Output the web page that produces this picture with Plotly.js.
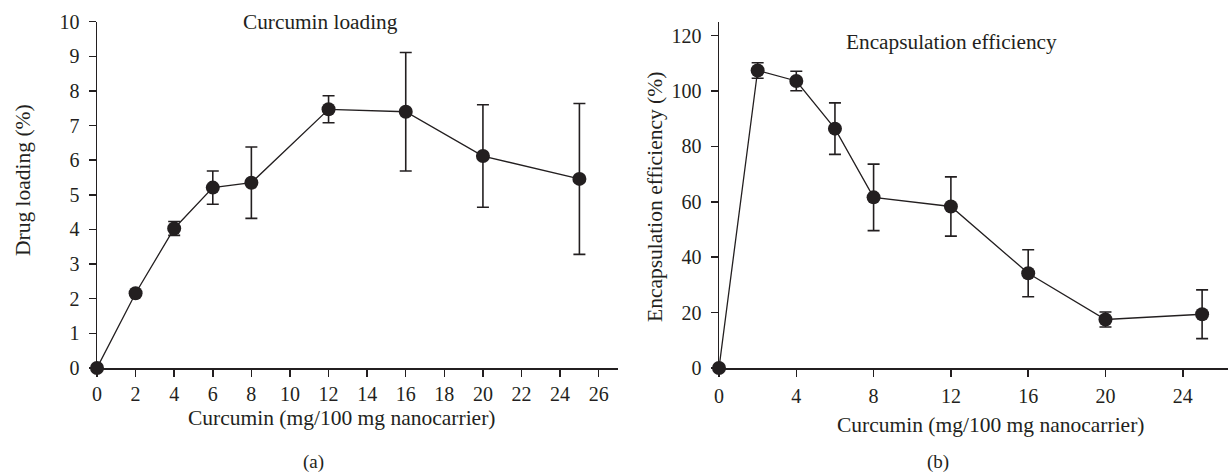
<!DOCTYPE html>
<html>
<head>
<meta charset="utf-8">
<script src="https://cdn.plot.ly/plotly-3.0.1.min.js"></script>
<style>html,body{margin:0;padding:0;background:#fff;}#chart{width:1228px;height:474px;}</style>
</head>
<body>
<div id="chart"></div>
<script>
// Data
const curcumin = [0, 2, 4, 6, 8, 12, 16, 20, 25];
const drugLoading = [0, 2.16, 4.03, 5.21, 5.35, 7.47, 7.40, 6.12, 5.46];
const drugLoadingErr = [0, 0, 0.2, 0.48, 1.03, 0.39, 1.71, 1.48, 2.18];
const encEfficiency = [0, 107.4, 103.6, 86.4, 61.6, 58.3, 34.2, 17.5, 19.4];
const encEfficiencyErr = [0, 2.8, 3.5, 9.3, 12.0, 10.7, 8.5, 2.7, 8.8];
const xTicksA = [0, 2, 4, 6, 8, 10, 12, 14, 16, 18, 20, 22, 24, 26];
const yTicksA = [0, 1, 2, 3, 4, 5, 6, 7, 8, 9, 10];
const xTicksB = [0, 4, 8, 12, 16, 20, 24];
const yTicksB = [0, 20, 40, 60, 80, 100, 120];

const ink = '#231f20';
const FONT = 'Liberation Serif, Times New Roman, serif';

function series(x, y, err, xa, ya) {
  return {
    x: x, y: y, xaxis: xa, yaxis: ya,
    type: 'scatter', mode: 'lines+markers',
    line: {color: ink, width: 1.3},
    marker: {color: ink, size: 14},
    error_y: {type: 'data', array: err, visible: true, color: ink, thickness: 1.6, width: 6},
    cliponaxis: false, showlegend: false, hoverinfo: 'x+y'
  };
}

const data = [
  series(curcumin, drugLoading, drugLoadingErr, 'x', 'y'),
  series(curcumin, encEfficiency, encEfficiencyErr, 'x2', 'y2')
];

const axisBase = {
  showline: true, linecolor: ink, linewidth: 1.5,
  showgrid: false, zeroline: false,
  ticks: 'outside', ticklen: 7, tickwidth: 1.5, tickcolor: ink,
  tickfont: {family: FONT, size: 20, color: ink},
  layer: 'below traces', fixedrange: true
};

const yDom = [106/474, (474-21.7)/474];

const layout = {
  width: 1228, height: 474,
  margin: {l: 0, r: 0, t: 0, b: 0},
  paper_bgcolor: '#fff', plot_bgcolor: '#fff',
  font: {family: FONT, color: ink},
  xaxis: Object.assign({}, axisBase, {domain: [97/1228, 618/1228], range: [0, 27], tickvals: xTicksA, ticktext: xTicksA.map(String), anchor: 'y', ticklabelstandoff: 0}),
  yaxis: Object.assign({}, axisBase, {domain: yDom, range: [0, 10], tickvals: yTicksA, ticktext: yTicksA.map(String), anchor: 'x', ticklabelstandoff: 5}),
  xaxis2: Object.assign({}, axisBase, {domain: [719/1228, 1], range: [0, 26.34], tickvals: xTicksB, ticktext: xTicksB.map(String), anchor: 'y2', ticklabelstandoff: 2}),
  yaxis2: Object.assign({}, axisBase, {domain: yDom, range: [0, 125], tickvals: yTicksB, ticktext: yTicksB.map(String), anchor: 'x2', ticklabelstandoff: 5}),
  annotations: [
    {text: 'Curcumin loading', xref: 'paper', yref: 'paper', x: 320/1228, y: (474-22)/474, showarrow: false, xanchor: 'center', yanchor: 'middle', font: {family: FONT, size: 21.3, color: ink}},
    {text: 'Encapsulation efficiency', xref: 'paper', yref: 'paper', x: 951/1228, y: (474-41.7)/474, showarrow: false, xanchor: 'center', yanchor: 'middle', font: {family: FONT, size: 21.3, color: ink}},
    {text: 'Curcumin (mg/100 mg nanocarrier)', xref: 'paper', yref: 'paper', x: 341.5/1228, y: (474-418)/474, showarrow: false, xanchor: 'center', yanchor: 'middle', font: {family: FONT, size: 21.5, color: ink}},
    {text: 'Curcumin (mg/100 mg nanocarrier)', xref: 'paper', yref: 'paper', x: 990/1228, y: (474-425)/474, showarrow: false, xanchor: 'center', yanchor: 'middle', font: {family: FONT, size: 21.5, color: ink}},
    {text: 'Drug loading (%)', xref: 'paper', yref: 'paper', x: 23/1228, y: (474-180)/474, textangle: -90, showarrow: false, xanchor: 'center', yanchor: 'middle', font: {family: FONT, size: 21.5, color: ink}},
    {text: 'Encapsulation efficiency (%)', xref: 'paper', yref: 'paper', x: 655/1228, y: (474-197)/474, textangle: -90, showarrow: false, xanchor: 'center', yanchor: 'middle', font: {family: FONT, size: 21.5, color: ink}},
    {text: '(a)', xref: 'paper', yref: 'paper', x: 313/1228, y: (474-462)/474, showarrow: false, xanchor: 'center', yanchor: 'middle', font: {family: FONT, size: 19, color: ink}},
    {text: '(b)', xref: 'paper', yref: 'paper', x: 938/1228, y: (474-462)/474, showarrow: false, xanchor: 'center', yanchor: 'middle', font: {family: FONT, size: 19, color: ink}}
  ]
};

Plotly.newPlot('chart', data, layout, {displayModeBar: false, staticPlot: true});
</script>
</body>
</html>
